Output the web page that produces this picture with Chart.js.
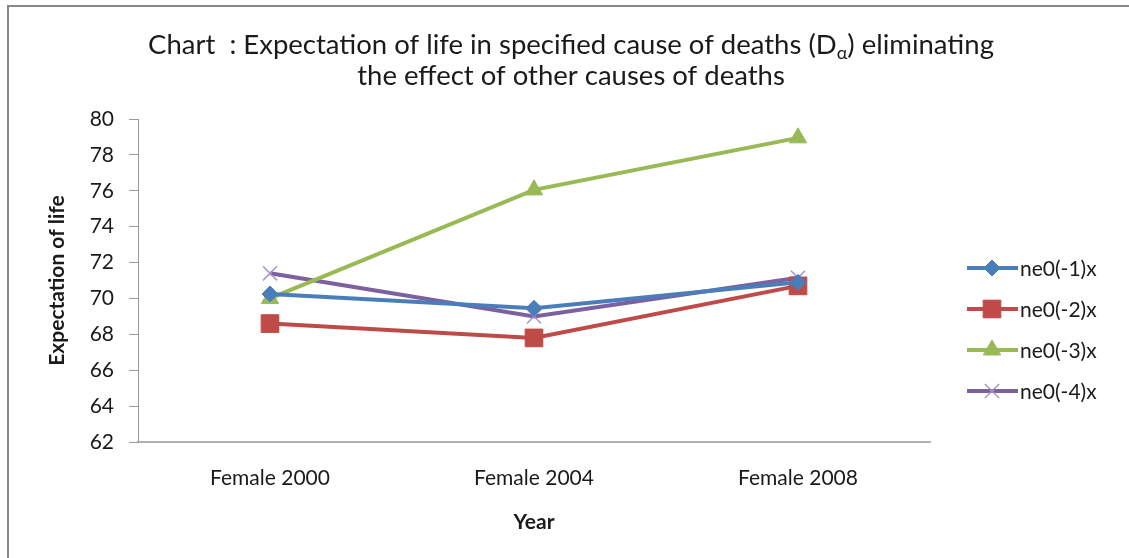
<!DOCTYPE html>
<html>
<head>
<meta charset="utf-8">
<script src="https://cdn.jsdelivr.net/npm/chart.js@4"></script>
<style>
html,body{margin:0;padding:0;background:#fff;}
#wrap{width:1129px;height:558px;position:relative;}
</style>
</head>
<body>
<div id="wrap"><canvas id="c" width="1129" height="558"></canvas></div>
<script>
const categories = ["Female 2000", "Female 2004", "Female 2008"];
const ne01 = [70.25, 69.45, 70.9];
const ne02 = [68.6, 67.8, 70.7];
const ne03 = [70.0, 76.05, 78.95];
const ne04 = [71.4, 69.0, 71.15];
const seriesNames = ["ne0(-1)x", "ne0(-2)x", "ne0(-3)x", "ne0(-4)x"];
const yTicks = [62, 64, 66, 68, 70, 72, 74, 76, 78, 80];

const FONT = "Lato, 'Open Sans', sans-serif";
const styles = [
  {color: "#4A7EBB", point: "rectRot", r: 8, pb: "#4A7EBB", pbw: 1},
  {color: "#BE4B48", point: "rect", r: 12.5, pb: "#BE4B48", pbw: 1},
  {color: "#98B954", point: "triangle", r: 10, pb: "#98B954", pbw: 1},
  {color: "#7D60A0", point: "crossRot", r: 10, pb: "#A895C6", pbw: 1.5}
];
const series = [ne01, ne02, ne03, ne04];

const datasets = series.map((d, i) => ({
  label: seriesNames[i],
  data: d,
  borderColor: styles[i].color,
  backgroundColor: styles[i].color,
  borderWidth: 4,
  tension: 0,
  pointStyle: styles[i].point,
  pointRadius: styles[i].r,
  pointHoverRadius: styles[i].r,
  pointBackgroundColor: styles[i].color,
  pointBorderColor: styles[i].pb,
  pointBorderWidth: styles[i].pbw
}));

const decor = {
  id: "decor",
  beforeDraw(chart) {
    const ctx = chart.ctx;
    ctx.save();
    ctx.fillStyle = "#fff";
    ctx.fillRect(0, 0, chart.width, chart.height);
    ctx.fillStyle = "#878787";
    ctx.fillRect(7, 5, chart.width - 7, 2);
    ctx.fillRect(7, 5, 2, chart.height - 5);
    ctx.restore();
  },
  afterDraw(chart) {
    const ctx = chart.ctx;
    ctx.save();
    // title
    ctx.fillStyle = "#1a1a1a";
    ctx.textBaseline = "alphabetic";
    const tf = "27.5px " + FONT;
    const sf = "18px " + FONT;
    const p1 = "Chart  : Expectation of life in specified cause of deaths (D";
    const p2 = "\u03B1";
    const p3 = ") eliminating";
    ctx.font = tf;
    const w1 = ctx.measureText(p1).width, w3 = ctx.measureText(p3).width;
    ctx.font = sf;
    const w2 = ctx.measureText(p2).width;
    const total = w1 + w2 + w3;
    const cx = 571;
    let x = cx - total / 2;
    const y1 = 54;
    ctx.textAlign = "left";
    ctx.font = tf; ctx.fillText(p1, x, y1); x += w1;
    ctx.font = sf; ctx.fillText(p2, x, y1 + 5); x += w2;
    ctx.font = tf; ctx.fillText(p3, x, y1);
    ctx.textAlign = "center";
    ctx.fillText("the effect of other causes of deaths", cx, 85);

    // legend
    const ly = [268, 309, 350, 391];
    ctx.font = "21px " + FONT;
    ctx.textAlign = "left";
    ctx.textBaseline = "middle";
    series.forEach((d, i) => {
      const s = styles[i];
      ctx.strokeStyle = s.color;
      ctx.lineWidth = 4;
      ctx.beginPath();
      ctx.moveTo(967, ly[i]);
      ctx.lineTo(1018, ly[i]);
      ctx.stroke();
      ctx.fillStyle = s.color;
      ctx.strokeStyle = s.pb;
      ctx.lineWidth = s.pbw;
      Chart.helpers.drawPoint(ctx, {pointStyle: s.point, radius: s.r, rotation: 0, borderWidth: s.pbw}, 992, ly[i]);
      ctx.fillStyle = "#1a1a1a";
      ctx.fillText(seriesNames[i], 1020, ly[i] + 1);
    });
    ctx.restore();
  }
};

new Chart(document.getElementById("c"), {
  type: "line",
  data: {labels: categories, datasets: datasets},
  options: {
    responsive: false,
    animation: false,
    events: [],
    layout: {padding: {left: 45, right: 199, top: 119, bottom: 23}},
    plugins: {legend: {display: false}, title: {display: false}, tooltip: {enabled: false}},
    scales: {
      x: {
        offset: true,
        grid: {display: false, drawTicks: false},
        border: {display: true, color: "#b3b3b3", width: 2},
        ticks: {color: "#1a1a1a", font: {family: FONT, size: 21}, padding: 24, maxRotation: 0},
        title: {display: true, text: "Year", color: "#1a1a1a", font: {family: FONT, size: 21, weight: "bold"}, padding: 0},
        afterFit(s) { s.height = 93; }
      },
      y: {
        min: 62, max: 80,
        afterBuildTicks(s) { s.ticks = yTicks.map(v => ({value: v})); },
        grid: {display: true, drawOnChartArea: false, drawTicks: true, tickLength: 9, color: "#999", lineWidth: 1},
        border: {display: true, color: "#999", width: 1},
        ticks: {color: "#1a1a1a", font: {family: FONT, size: 21}, padding: 15},
        title: {display: true, text: "Expectation of life", color: "#1a1a1a", font: {family: FONT, size: 21, weight: "bold"}, padding: 0},
        afterFit(s) { s.width = 93; }
      }
    }
  },
  plugins: [decor]
});
</script>
</body>
</html>
